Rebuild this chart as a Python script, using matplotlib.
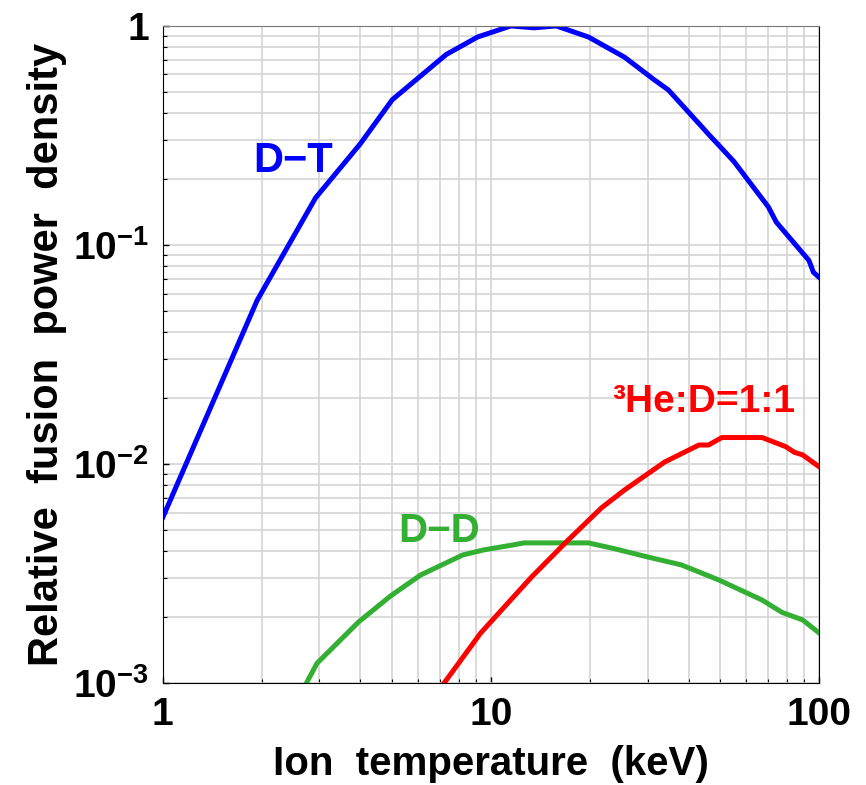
import numpy as np
import matplotlib
matplotlib.use('Agg')
import matplotlib.pyplot as plt
from matplotlib.ticker import LogLocator, NullFormatter

plt.rcParams['font.family'] = ['Liberation Sans', 'DejaVu Sans']
plt.rcParams['font.weight'] = 'bold'
plt.rcParams['mathtext.fontset'] = 'custom'
plt.rcParams['mathtext.rm'] = 'Liberation Sans:bold'
plt.rcParams['mathtext.bf'] = 'Liberation Sans:bold'

# D-T
dt_T = [1.0, 1.94, 2.92, 4.0, 5.0, 7.3, 9.1, 11.5, 13.5, 15.8, 19.8, 25.5, 31.3, 34.7,
        43.9, 46, 50, 55, 70, 74, 93, 96, 100]
dt_P = [0.0057, 0.056, 0.164, 0.29, 0.46, 0.74, 0.89, 1.0, 0.98, 1.0, 0.89, 0.72, 0.57, 0.51,
        0.346, 0.32, 0.28, 0.24, 0.149, 0.127, 0.085, 0.075, 0.071]

# D-D
dd_T = [2.74, 2.95, 3.95, 4.95, 6.1, 8.2, 9.5, 11.7, 12.6, 17.2, 19.8, 23.8, 30, 38,
        49.5, 67, 77, 89, 100]
dd_P = [1.0e-3, 1.23e-3, 1.9e-3, 2.5e-3, 3.11e-3, 3.84e-3, 4.05e-3, 4.27e-3, 4.36e-3, 4.36e-3,
        4.36e-3, 4.1e-3, 3.76e-3, 3.46e-3, 2.95e-3, 2.39e-3, 2.1e-3, 1.94e-3, 1.69e-3]

# 3He-D
hd_T = [7.2, 9.3, 13.3, 17.2, 21.7, 25.5, 33.8, 43, 46, 50.5, 67, 79, 84, 89, 100]
hd_P = [1.0e-3, 1.69e-3, 3.05e-3, 4.5e-3, 6.3e-3, 7.6e-3, 0.0102, 0.0122, 0.0122, 0.0132,
        0.0132, 0.012, 0.0113, 0.011, 0.0097]

xticks = [1, 10, 100]
xtick_labels = ['1', '10', '100']
yticks = [1e-3, 1e-2, 1e-1, 1]
ytick_labels = [r'$\mathbf{10^{-3}}$', r'$\mathbf{10^{-2}}$', r'$\mathbf{10^{-1}}$', '1']

fig = plt.figure(figsize=(8.66, 7.85), dpi=100)
ax = fig.add_axes([0.188, 0.130, 0.758, 0.837])

ax.plot(dt_T, dt_P, color='#0000ff', lw=3.6, solid_joinstyle='round')
ax.plot(dd_T, dd_P, color='#33b033', lw=3.6, solid_joinstyle='round')
ax.plot(hd_T, hd_P, color='#ff0000', lw=3.6, solid_joinstyle='round')

ax.set_xscale('log')
ax.set_yscale('log')
ax.set_xlim(1, 100)
ax.set_ylim(1e-3, 1)

ax.xaxis.set_minor_locator(LogLocator(base=10, subs=np.arange(2, 10)))
ax.yaxis.set_minor_locator(LogLocator(base=10, subs=np.arange(2, 10)))
ax.xaxis.set_minor_formatter(NullFormatter())
ax.yaxis.set_minor_formatter(NullFormatter())
ax.set_xticks(xticks, xtick_labels)
ax.set_yticks(yticks, ytick_labels)

ax.grid(True, which='both', color='#d4d4d4', lw=1.2)
ax.set_axisbelow(True)
ax.tick_params(which='both', direction='in', top=False, right=False, labelsize=28, pad=10)
ax.tick_params(which='major', length=4, width=1)
ax.tick_params(which='minor', length=3, width=0.8)
ax.spines['top'].set_color('#777777')

ax.set_xlabel('Ion  temperature  (keV)', fontsize=29, fontweight='bold', labelpad=9)
ax.set_ylabel('Relative  fusion  power  density', fontsize=30, fontweight='bold', labelpad=4)

ax.text(2.5, 0.215, 'D\u2212T', color='#0000ff', fontsize=30, fontweight='bold', ha='center', va='baseline')
ax.text(6.93, 0.0044, 'D\u2212D', color='#33b033', fontsize=29, fontweight='bold', ha='center', va='baseline')
ax.text(44.5, 0.01727, '\u00b3He:D=1:1', color='#ff0000', fontsize=28, fontweight='bold', ha='center', va='baseline')

fig.savefig('out.png', dpi=100)
